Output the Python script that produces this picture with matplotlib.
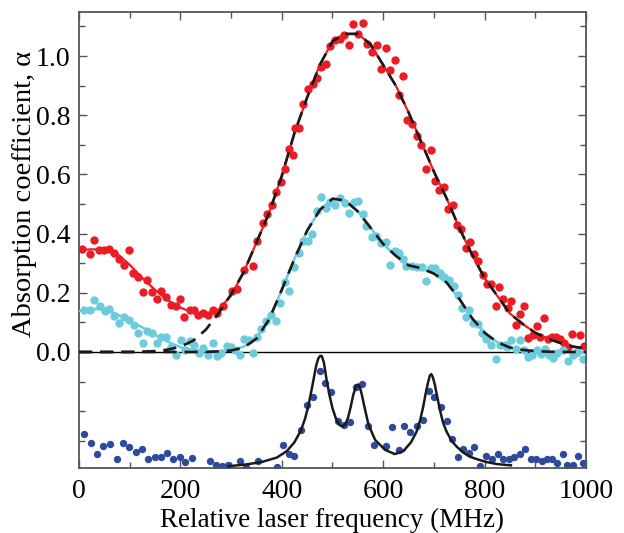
import matplotlib
matplotlib.use("Agg")
import matplotlib.pyplot as plt
from matplotlib.ticker import FixedLocator, FormatStrFormatter

# measured points (frequency in MHz, absorption)
red_f = [6, 21, 30, 39, 49, 60, 69, 78, 88, 98, 106, 116, 126, 135, 144, 153, 162, 172, 182, 191,
         199, 208, 218, 227, 235, 245, 254, 264, 273, 284, 302, 312, 325, 343, 352, 362, 370, 380,
         389, 398, 406, 415, 423, 426, 434, 442, 451, 461, 469, 477, 487, 496, 505, 515, 523, 533,
         541, 551, 560, 569, 577, 587, 596, 605, 613, 623, 632, 640, 648, 656, 666, 675, 684, 694,
         702, 711, 720, 728, 737, 745, 753, 763, 771, 780, 788, 796, 804, 813, 822, 829, 837, 846,
         853, 862, 870, 878, 886, 895, 903, 909, 918, 926, 934, 941, 949, 957, 965, 973, 982, 988, 996]
red_v = [.347, .331, .378, .345, .345, .347, .333, .313, .294, .345, .268, .252, .204, .243, .204,
         .178, .205, .185, .159, .155, .179, .119, .142, .142, .125, .133, .125, .142, .133, .155,
         .207, .212, .277, .291, .376, .437, .467, .496, .539, .575, .620, .686, .666, .756, .758,
         .838, .888, .907, .926, .964, .973, 1.034, 1.056, 1.057, 1.071, 1.039, 1.109, 1.073, 1.113,
         1.042, 1.015, 1.039, .958, 1.026, .952, .986, .868, .933, .784, .772, .730, .699, .618, .682,
         .579, .547, .556, .482, .497, .429, .416, .352, .373, .331, .307, .260, .230, .230, .155,
         .218, .178, .147, .173, .091, .128, .155, .046, .057, .089, .050, .116, .043, .050, .050,
         .043, .032, .018, .061, .001, .057, .020]

cyan_f = [10, 21, 30, 41, 51, 60, 69, 78, 89, 98, 108, 116, 126, 135, 144, 153, 162, 172, 182, 191,
          201, 210, 218, 227, 236, 245, 254, 264, 273, 281, 291, 299, 308, 317, 325, 335, 343, 352,
          360, 369, 378, 389, 396, 406, 415, 424, 433, 442, 451, 459, 469, 478, 487, 495, 505, 515,
          525, 533, 542, 551, 560, 567, 577, 586, 595, 605, 613, 623, 632, 640, 645, 656, 666, 676,
          684, 694, 702, 712, 720, 730, 740, 748, 756, 763, 770, 778, 788, 794, 802, 812, 822, 830,
          840, 845, 853, 863, 870, 878, 886, 894, 903, 911, 919, 928, 936, 943, 954, 965, 974, 983, 995]
cyan_v = [.142, .142, .176, .155, .140, .144, .122, .099, .117, .108, .091, .063, .032, .072, .065,
          .032, .052, .052, .016, -.010, .041, .007, .038, .024, -.002, .012, -.010, .032, -.014,
          -.002, .020, .016, .007, -.010, .043, .041, -.002, .050, .077, .106, .125, .105, .167,
          .238, .206, .286, .335, .375, .376, .399, .477, .525, .488, .508, .497, .519, .505, .471,
          .508, .511, .466, .426, .387, .392, .367, .370, .294, .342, .335, .313, .291, .291, .288,
          .288, .241, .283, .283, .268, .252, .243, .223, .193, .148, .117, .142, .099, .095, .063,
          .043, .024, -.025, .024, .024, .016, .041, .009, .041, .007, -.016, -.010, .007, -.007,
          .009, -.010, -.021, -.004, .007, -.029, -.010, .001, -.025]

blue_f = [10, 23, 35, 48, 62, 74, 87, 99, 112, 124, 136, 149, 161, 174, 185, 199, 210, 223, 259, 271,
          282, 294, 318, 330, 354, 390, 402, 414, 425, 437, 450, 462, 475, 485, 498, 511, 523, 535,
          546, 559, 571, 582, 606, 618, 631, 642, 653, 666, 679, 690, 700, 714, 725, 736, 747, 758,
          769, 780, 792, 803, 815, 826, 836, 848, 859, 870, 880, 891, 902, 913, 924, 934, 943, 954,
          963, 974, 985, 995]
blue_v = [-.277, -.309, -.345, -.318, -.311, -.361, -.306, -.322, -.337, -.328, -.363, -.354, -.354,
          -.340, -.363, -.354, -.372, -.359, -.370, -.382, -.387, -.382, -.367, -.390, -.368, -.390,
          -.314, -.345, -.350, -.264, -.179, -.151, -.064, -.106, -.134, -.232, -.247, -.236, -.119,
          -.109, -.250, -.314, -.317, -.253, -.331, -.250, -.272, -.250, -.230, -.132, -.153, -.187,
          -.233, -.294, -.354, -.329, -.340, -.322, -.385, -.351, -.361, -.346, -.360, -.360, -.354,
          -.345, -.327, -.361, -.361, -.367, -.363, -.363, -.376, -.346, -.383, -.383, -.350, -.374]

# fit curves
fit_f = [0, 25, 50, 75, 100, 125, 150, 175, 200, 225, 250, 275, 300, 325, 350, 375, 400, 425, 450,
         475, 500, 525, 550, 575, 600, 625, 650, 675, 700, 725, 750, 775, 800, 825, 850, 875, 900,
         925, 950, 975, 1000]
red_fit = [.345, .347, .345, .332, .295, .25, .21, .175, .15, .133, .127, .143, .19, .27, .37, .47,
           .595, .74, .86, .97, 1.05, 1.075, 1.075, 1.04, .97, .90, .81, .71, .61, .52, .42, .33,
           .25, .19, .13, .095, .065, .045, .03, .018, .012]
red_dash = [0, 0, 0, 0, 0, .001, .003, .008, .018, .038, .075, .13, .195, .27, .37, .47, .595,
            .74, .86, .97, 1.05, 1.075, 1.075, 1.04, .97, .90, .81, .71, .61, .52, .42, .33, .25,
            .19, .13, .095, .065, .045, .03, .018, .012]
cyan_fit = [.138, .145, .145, .128, .105, .083, .058, .035, .016, .007, .003, .002, .006, .018,
            .048, .11, .21, .315, .41, .48, .518, .512, .475, .42, .365, .325, .293, .283, .265,
            .235, .18, .115, .065, .033, .015, .007, .003, .001, 0, 0, 0]
cyan_dash = [0, 0, 0, 0, 0, 0, 0, 0, 0, 0, 0, .002, .005, .015, .045, .11, .21, .315, .41, .48,
             .518, .512, .475, .42, .365, .325, .293, .283, .265, .235, .18, .115, .065, .033,
             .015, .007, .003, .001, 0, 0, 0]

blue_fit_f = [295, 330, 360, 390, 410, 425, 438, 446, 452, 458, 463, 468, 472, 476, 479, 483, 488,
              494, 500, 507, 514, 520, 526, 531, 536, 541, 546, 550, 554, 558, 563, 571, 584, 604,
              623, 640, 655, 666, 673, 679, 685, 689, 692, 695, 698, 702, 707, 712, 718, 725, 735,
              745, 758, 771, 790, 804, 825, 852]
blue_fit = [-.386, -.380, -.372, -.357, -.335, -.305, -.264, -.225, -.185, -.135, -.090, -.045,
            -.022, -.013, -.014, -.035, -.090, -.145, -.190, -.226, -.247, -.252, -.243, -.220,
            -.185, -.145, -.118, -.110, -.118, -.145, -.185, -.245, -.297, -.331, -.345, -.335,
            -.305, -.269, -.230, -.185, -.130, -.100, -.080, -.075, -.085, -.111, -.155, -.196,
            -.238, -.269, -.300, -.320, -.340, -.354, -.365, -.372, -.379, -.383]

RED = "#ec1c24"
CYAN = "#6ccbdc"
BLUE = "#2d4a9c"

plt.rcParams["font.family"] = ["Liberation Serif", "DejaVu Serif"]

fig = plt.figure(figsize=(6.24, 5.33), dpi=100)
ax = fig.add_axes([0.1266, 0.122, 0.8124, 0.8555])

ax.axhline(0, color="k", lw=1.0, zorder=1)

ax.plot(red_f, red_v, "o", color=RED, ms=6, mew=0, zorder=2)
ax.plot(cyan_f, cyan_v, "o", color=CYAN, ms=6, mew=0, zorder=2)
ax.plot(blue_f, blue_v, "o", color=BLUE, ms=5.3, mew=0, zorder=2)

ax.plot(fit_f, red_fit, "-", color=RED, lw=1.6, zorder=3)
ax.plot(fit_f, cyan_fit, "-", color=CYAN, lw=1.8, zorder=3)
ax.plot(fit_f, red_dash, "--", color="#1a1a1a", lw=1.9, dashes=(5, 3), zorder=4)
ax.plot(fit_f, cyan_dash, "--", color="#1a1a1a", lw=1.9, dashes=(5, 3), zorder=4)
ax.plot(blue_fit_f, blue_fit, "-", color="#1a1a1a", lw=1.8, zorder=4)

ax.set_xlim(0, 1000)
ax.set_ylim(-0.392, 1.149)

ax.xaxis.set_major_locator(FixedLocator([0, 200, 400, 600, 800, 1000]))
ax.xaxis.set_minor_locator(FixedLocator([100, 300, 500, 700, 900]))
ax.yaxis.set_major_locator(FixedLocator([0.0, 0.2, 0.4, 0.6, 0.8, 1.0]))
ax.yaxis.set_minor_locator(FixedLocator([-0.3, -0.2, -0.1, 0.1, 0.3, 0.5, 0.7, 0.9, 1.1]))
ax.yaxis.set_major_formatter(FormatStrFormatter("%.1f"))

ax.tick_params(which="both", direction="in", top=True, right=True, color="#555555",
               labelsize=20, width=1.0)
ax.tick_params(axis="x", which="major", length=6, pad=8)
ax.tick_params(axis="y", which="major", length=6, pad=6)
ax.tick_params(which="minor", length=4)
for s in ax.spines.values():
    s.set_color("#555555")
    s.set_linewidth(1.3)

ax.set_xlabel("Relative laser frequency (MHz)", fontsize=19.5, labelpad=3)
ax.set_ylabel("Absorption coefficient, α", fontsize=20.5)
ax.yaxis.set_label_coords(-0.083, 0.6)

fig.savefig("out.png", dpi=100)
